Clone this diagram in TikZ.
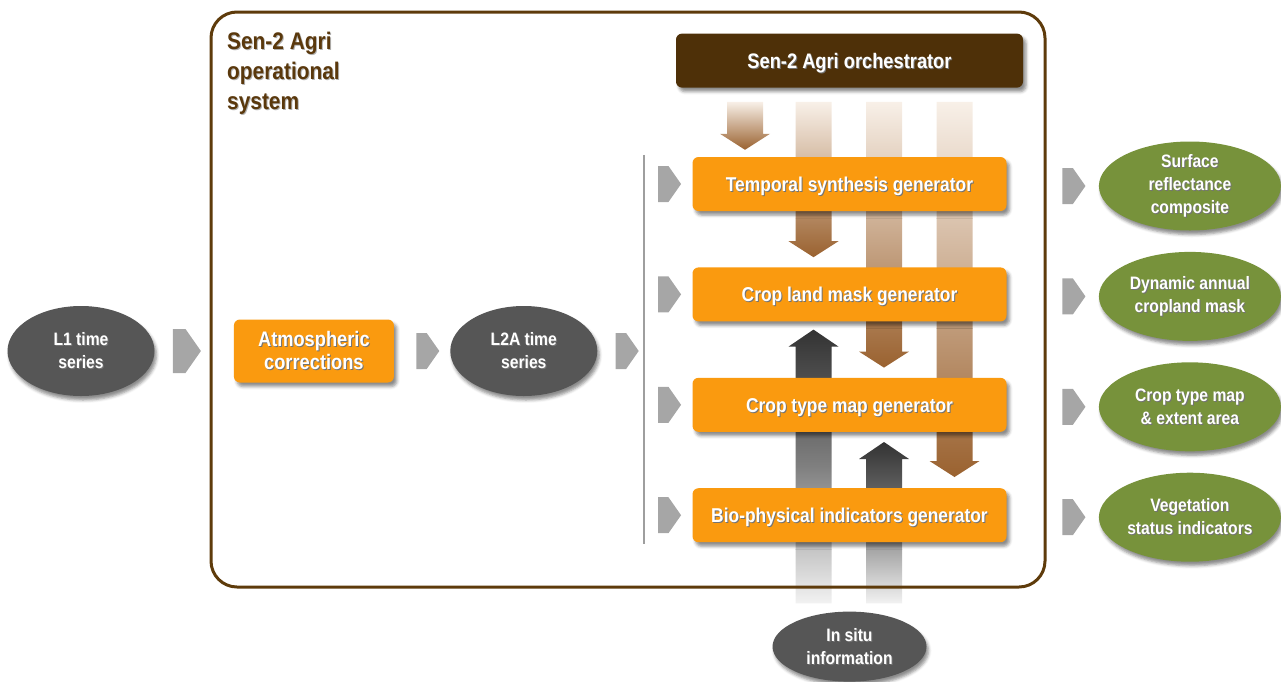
\documentclass[tikz,border=0pt]{standalone}
\usepackage{fontspec}
\setmainfont{Liberation Sans}[FakeStretch=0.87]
\usepackage{tikz}
\usetikzlibrary{shapes.geometric, shapes.symbols, positioning, calc, shadows.blur}

\definecolor{agriorange}{HTML}{FA9A0F}
\definecolor{orchbrown}{HTML}{4E3008}
\definecolor{framebrown}{HTML}{5E3B0B}
\definecolor{titlebrown}{HTML}{5A380C}
\definecolor{darkgrey}{HTML}{565656}
\definecolor{olive}{HTML}{77923B}
\definecolor{chevgrey}{HTML}{A6A6A6}
\definecolor{bargrey}{HTML}{9E9E9E}
\definecolor{flowlight}{HTML}{F8F0E8}
\definecolor{flowbrown}{HTML}{9A6230}
\definecolor{uplight}{HTML}{F2F2F2}
\definecolor{updark}{HTML}{333333}

\pgfdeclarelayer{background}
\pgfsetlayers{background,main}

% text with a small offset shadow
\newcommand{\shtxt}[2][black!55]{\rlap{\textcolor{#1}{\kern1pt\raisebox{-1pt}{#2}}}#2}

% broad arrow from the orchestrator down to a generator
\newcommand{\flowdown}[3]{% shift from orchestrator centre, target, gap
  \shade[top color=flowlight, bottom color=flowbrown]
    let \p1=(orch.south), \p2=(#2.north), \p3=(orch.center) in
    (\x3+#1pt-18pt,\y1-14pt) -- (\x3+#1pt+18pt,\y1-14pt)
    -- (\x3+#1pt+18pt,\y2+#3pt+16pt) -- (\x3+#1pt+25pt,\y2+#3pt+16pt)
    -- (\x3+#1pt,\y2+#3pt)
    -- (\x3+#1pt-25pt,\y2+#3pt+16pt) -- (\x3+#1pt-18pt,\y2+#3pt+16pt) -- cycle;}

% broad arrow from the in situ data up to a generator
\newcommand{\flowup}[3]{% shift from in situ centre, target, gap
  \shade[top color=updark, bottom color=uplight, middle color=black!50]
    let \p1=(insitu.north), \p2=(#2.south), \p3=(insitu.center) in
    (\x3+#1pt-18pt,\y1+8pt) -- (\x3+#1pt+18pt,\y1+8pt)
    -- (\x3+#1pt+18pt,\y2-#3pt-17pt) -- (\x3+#1pt+25pt,\y2-#3pt-17pt)
    -- (\x3+#1pt,\y2-#3pt)
    -- (\x3+#1pt-25pt,\y2-#3pt-17pt) -- (\x3+#1pt-18pt,\y2-#3pt-17pt) -- cycle;}

\begin{document}
\begin{tikzpicture}[x=1pt, y=-1pt,
    node distance=56pt and 12pt,
    every node/.style={font=\bfseries},
    process/.style={rectangle, rounded corners=6pt, fill=agriorange, text=white,
      minimum width=314pt, minimum height=54pt, font=\bfseries\fontsize{20}{22}\selectfont,
      text height=14.5pt, text depth=0pt,
      blur shadow={shadow xshift=3pt, shadow yshift=-4pt, shadow blur radius=3pt, shadow opacity=45}},
    orchbox/.style={process, fill=orchbrown, minimum width=347pt, text height=15pt,
      font=\bfseries\fontsize{21}{22}\selectfont},
    dataset/.style={ellipse, fill=darkgrey, text=white, align=center, inner sep=-4pt,
      minimum width=147pt, minimum height=90pt, font=\bfseries\fontsize{18}{23}\selectfont,
      blur shadow={shadow xshift=2pt, shadow yshift=-4pt, shadow blur radius=3pt, shadow opacity=45}},
    product/.style={dataset, fill=olive, minimum width=182pt, minimum height=89pt, yshift=-2pt},
    chev/.style={signal, signal to=east, signal pointer angle=110, fill=chevgrey, draw=none,
      inner sep=0pt, minimum width=23pt, minimum height=36pt},
    frame/.style={draw=framebrown, line width=3pt, rounded corners=26pt},
    bar/.style={draw=bargrey, line width=2pt}
    ]
    \useasboundingbox (0,0) rectangle (1281,681);

    % System frame and its name
    \draw[frame] (211,12) rectangle (1045,587);
    \node[anchor=north west, inner sep=0pt, align=left, text=titlebrown,
      font=\bfseries\fontsize{24}{30}\selectfont] (sysname) at (227,32)
      {\shtxt[black!30]{Sen-2 Agri}\\\shtxt[black!30]{operational}\\\shtxt[black!30]{system}};

    % Nodes
    \node[dataset] (l1) at (81,351) {\shtxt{L1 time}\\\shtxt{series}};
    \node[process, align=center, minimum width=160pt, minimum height=63pt, text height=, text depth=,
      font=\bfseries\fontsize{21}{23}\selectfont]
      (atm) [right=79pt of l1] {\shtxt{Atmospheric}\\\shtxt{corrections}};
    \node[dataset] (l2a) [right=56pt of atm] {\shtxt{L2A time}\\\shtxt{series}};

    \node[process] (temporal) at (849.5,184) {\shtxt{Temporal synthesis generator}};
    \node[process] (cropland) [below=of temporal] {\shtxt{Crop land mask generator}};
    \node[process] (croptype) [below=of cropland] {\shtxt{Crop type map generator}};
    \node[process] (biophys) [below=of croptype] {\shtxt{Bio-physical indicators generator}};
    \node[orchbox] (orch) [above=69pt of temporal] {\shtxt{Sen-2 Agri orchestrator}};
    \node[dataset, minimum width=154pt, minimum height=70pt] (insitu) [below=69pt of biophys]
      {\shtxt{In situ}\\\shtxt{information}};

    \node[product] (surface) [right=92pt of temporal] {\shtxt{Surface}\\\shtxt{reflectance}\\\shtxt{composite}};
    \node[product] (cropmask) [right=92pt of cropland] {\shtxt{Dynamic annual}\\\shtxt{cropland mask}};
    \node[product] (typemap) [right=92pt of croptype] {\shtxt{Crop type map}\\\shtxt{\& extent area}};
    \node[product] (vegstatus) [right=92pt of biophys] {\shtxt{Vegetation}\\\shtxt{status indicators}};

    % Connections
    \node[chev, minimum width=28pt, minimum height=44pt] (inarrow) [right=18pt of l1] {};
    \node[chev] (atmarrow) [right=22pt of atm] {};
    \node[chev] (l2aarrow) [right=18pt of l2a] {};
    \draw[bar] ([xshift=-48pt,yshift=2pt]temporal.north west) -- ([xshift=-48pt,yshift=-2pt]biophys.south west);
    \foreach \g in {temporal,cropland,croptype,biophys}
      \node[chev] (in-\g) [left=11pt of \g] {};
    \foreach \p in {surface,cropmask,typemap,vegstatus}
      \node[chev] (out-\p) [left=13pt of \p] {};

    \begin{pgfonlayer}{background}
      \flowdown{-104.5}{temporal}{7}
      \flowdown{-36}{cropland}{10}
      \flowdown{34.5}{croptype}{10}
      \flowdown{105}{biophys}{11}
      \flowup{-36}{cropland}{8}
      \flowup{34.5}{croptype}{10}
    \end{pgfonlayer}
\end{tikzpicture}
\end{document}
